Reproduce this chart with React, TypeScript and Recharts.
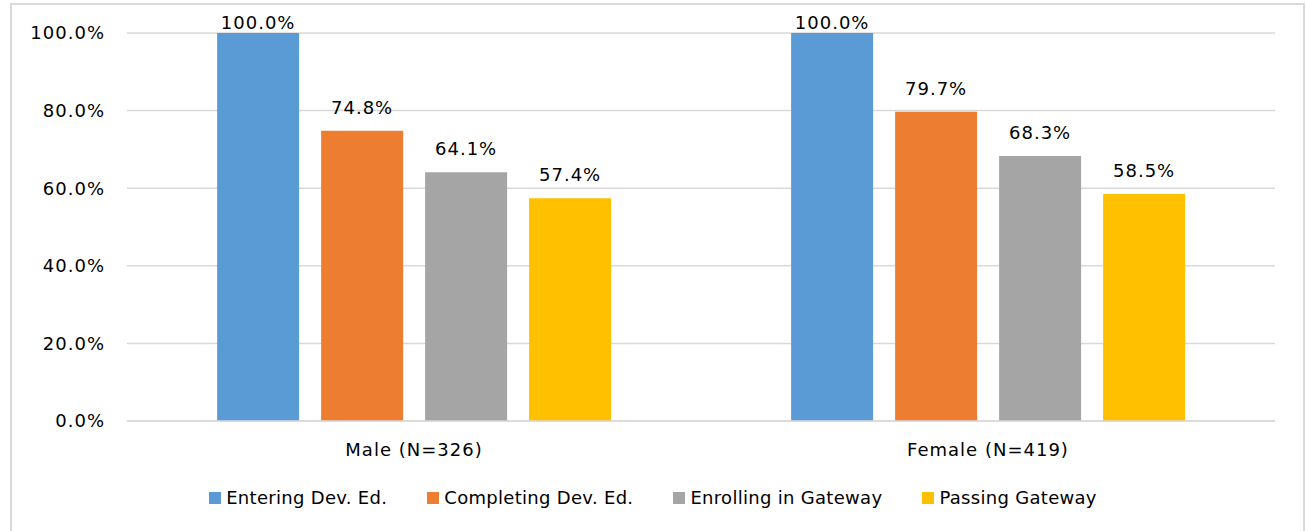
import { BarChart, Bar, XAxis, YAxis, CartesianGrid, Legend, LabelList } from 'recharts'

const groups = ['Male (N=326)', 'Female (N=419)']
const entering = [100.0, 100.0]
const completing = [74.8, 79.7]
const enrolling = [64.1, 68.3]
const passing = [57.4, 58.5]
const yTicks = [0, 20, 40, 60, 80, 100]

const series = [
  { key: 'entering', name: 'Entering Dev. Ed.', color: '#5B9BD5' },
  { key: 'completing', name: 'Completing Dev. Ed.', color: '#ED7D31' },
  { key: 'enrolling', name: 'Enrolling in Gateway', color: '#A5A5A5' },
  { key: 'passing', name: 'Passing Gateway', color: '#FFC000' },
]

const data = groups.map((g, i) => ({
  group: g,
  entering: entering[i],
  completing: completing[i],
  enrolling: enrolling[i],
  passing: passing[i],
}))

const FONT = '"DejaVu Sans", sans-serif'
const TXT = { fontSize: 18, fill: '#000', fontFamily: FONT, letterSpacing: 1 }
const pct = (v: number) => `${v.toFixed(1)}%`

// value label above the bar, kept inside the plot like Excel does
function BarLabel(props: any) {
  const { x, y, width, value } = props
  return (
    <text x={Number(x) + Number(width) / 2} y={Math.max(Number(y) - 17, 29)} textAnchor="middle"
      style={TXT}>{pct(Number(value))}</text>
  )
}

function LegendRow() {
  return (
    <div style={{ display: 'flex', justifyContent: 'center', gap: 40, fontFamily: FONT, fontSize: 18, letterSpacing: 0.3, color: '#000' }}>
      {series.map(s => (
        <div key={s.key} style={{ display: 'flex', alignItems: 'center', gap: 5 }}>
          <div style={{ width: 12, height: 12, background: s.color }} />
          <span>{s.name}</span>
        </div>
      ))}
    </div>
  )
}

export default function App() {
  return (
    <div style={{ position: 'absolute', left: 0, top: 0, width: 1306, height: 531, background: '#fff', overflow: 'hidden' }}>
      <div style={{ position: 'absolute', left: 10, top: 3, width: 1291, height: 600, border: '2px solid #D9D9D9' }} />
      <div style={{ position: 'absolute', left: 0, top: 0 }}>
        <BarChart width={1306} height={531} data={data}
          margin={{ top: 33, right: 31, left: 0, bottom: 49 }}
          barCategoryGap="15.7%" barGap={22}>
          <CartesianGrid stroke="#D9D9D9" strokeWidth={1.5} vertical={false} />
          <XAxis dataKey="group" height={40} tickLine={false} axisLine={{ stroke: '#D9D9D9', strokeWidth: 1.5 }}
            tickMargin={16} tick={TXT} />
          <YAxis width={127} domain={[0, 100]} ticks={yTicks} tickFormatter={pct} tickLine={false} axisLine={false}
            tickMargin={16} tick={TXT} />
          <Legend verticalAlign="bottom" content={<LegendRow />} wrapperStyle={{ top: 487, left: 0, width: 1306 }} />
          {series.map(s => (
            <Bar key={s.key} dataKey={s.key} name={s.name} fill={s.color} isAnimationActive={false}>
              <LabelList dataKey={s.key} content={<BarLabel />} />
            </Bar>
          ))}
        </BarChart>
      </div>
    </div>
  )
}
